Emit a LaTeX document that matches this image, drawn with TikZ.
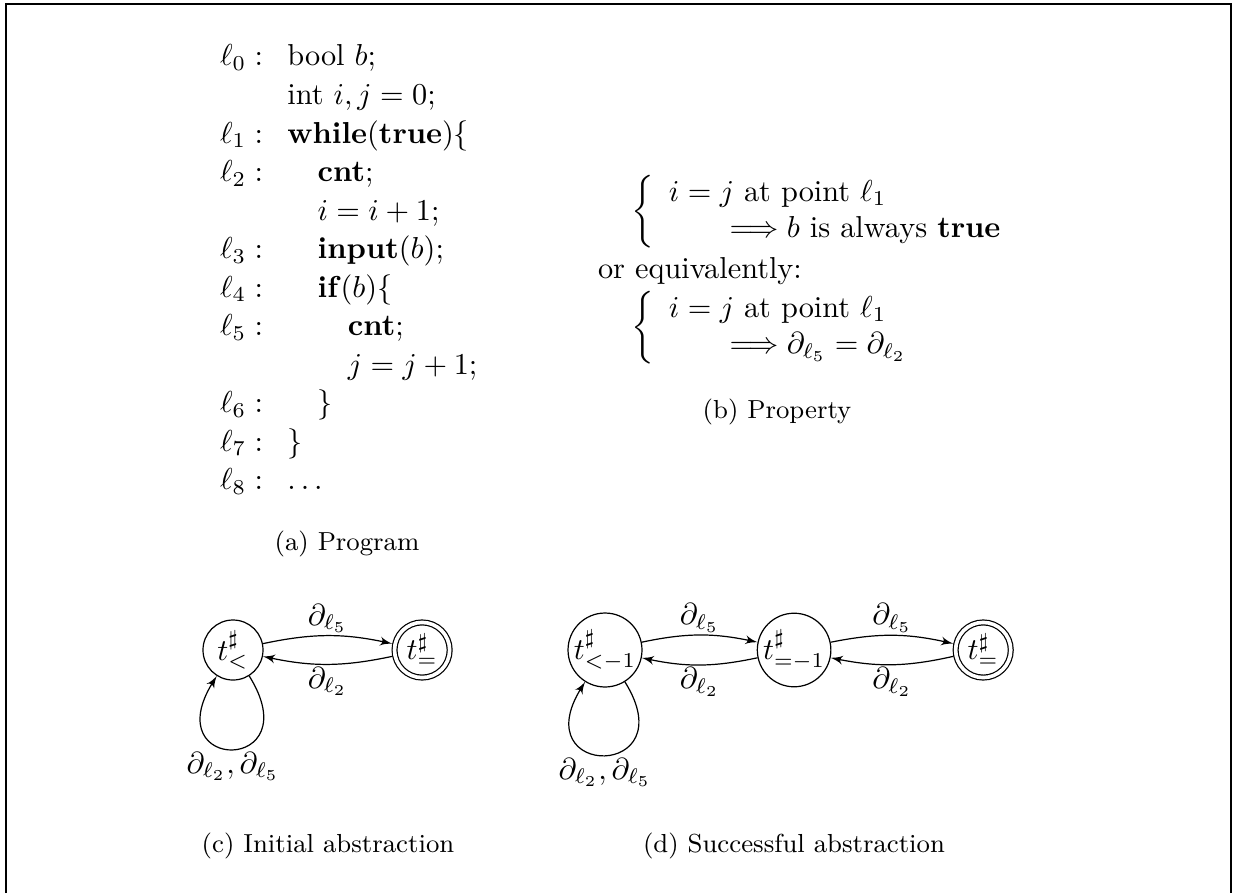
\documentclass[tikz,border=0pt]{standalone}
\usepackage{amssymb}
\usepackage{amsmath}
\usepackage{tikz}
\usetikzlibrary{arrows}

\begin{document}
\begin{tikzpicture}[x=0.33pt,y=-0.33pt,inner sep=.8pt,node distance=62.4pt,>=latex']
\tikzset{state/.style={draw,circle,inner sep=0pt,minimum size=19.8pt},
  final/.style={state,double,double distance=1.2pt,minimum size=18.2pt,outer sep=1pt},
  selfloop/.style={out=-58,in=-122,distance=38pt},
  capt/.style={anchor=base,font=\fontsize{8.6pt}{10pt}\selectfont}}
\useasboundingbox (0,0) rectangle (1233,893);
\draw [line width=.7pt] (6,893) -- (6,4) -- (1231,4) -- (1231,893);

% (a) program
\draw node [anchor=base west] (prog) at (217,66) {\renewcommand{\arraystretch}{1.06}%
  \begin{tabular}[t]{@{}l@{\hspace{8pt}}l@{}}
  $\ell_0:$ & bool $b$;\\
            & int $i,j=0$;\\
  $\ell_1:$ & \textbf{while}(\textbf{true})$\{$\\
  $\ell_2:$ & \quad\textbf{cnt};\\
            & \quad$i=i+1$;\\
  $\ell_3:$ & \quad\textbf{input}($b$);\\
  $\ell_4:$ & \quad\textbf{if}($b$)$\{$\\
  $\ell_5:$ & \qquad\textbf{cnt};\\
            & \qquad$j=j+1$;\\
  $\ell_6:$ & \quad$\}$\\
  $\ell_7:$ & $\}$\\
  $\ell_8:$ & $\ldots$
  \end{tabular}};
\draw node [capt] (capta) at (347,550) {(a) Program};

% (b) property
\draw node [anchor=west] (prop1) at (628,212) {$\left\{\begin{array}{l}
  i=j \text{ at point } \ell_1\\
  \qquad\Longrightarrow b \text{ is always } \mathbf{true}\end{array}\right.$};
\draw node [anchor=base west] (equiv) at (595,278) {or equivalently:};
\draw node [anchor=west] (prop2) at (628,328) {$\left\{\begin{array}{l}
  i=j \text{ at point } \ell_1\\
  \qquad\Longrightarrow \partial_{\ell_5}=\partial_{\ell_2}\end{array}\right.$};
\draw node [capt] (captb) at (777,418) {(b) Property};

% (c) initial abstraction
\draw node [state] (c1) at (233,650) {$t^{\sharp}_{<}$};
\draw node [final] [right of=c1] (c2) {$t^{\sharp}_{=}$};
\draw [->] (c1) edge [bend left=12] node [above] {$\partial_{\ell_5}$} (c2)
           (c2) edge [bend left=12] node [below] {$\partial_{\ell_2}$} (c1)
           (c1) edge [selfloop] node [below] {$\partial_{\ell_2},\partial_{\ell_5}$} (c1);
\draw node [capt] (captc) at (328,852) {(c) Initial abstraction};

% (d) successful abstraction
\draw node [state] (d1) at (605,650) {$t^{\sharp}_{<-1}$};
\draw node [state] [right of=d1] (d2) {$t^{\sharp}_{=-1}$};
\draw node [final] [right of=d2] (d3) {$t^{\sharp}_{=}$};
\draw [->] (d1) edge [bend left=12] node [above] {$\partial_{\ell_5}$} (d2)
           (d2) edge [bend left=12] node [below] {$\partial_{\ell_2}$} (d1)
           (d2) edge [bend left=12] node [above] {$\partial_{\ell_5}$} (d3)
           (d3) edge [bend left=12] node [below] {$\partial_{\ell_2}$} (d2)
           (d1) edge [selfloop] node [below] {$\partial_{\ell_2},\partial_{\ell_5}$} (d1);
\draw node [capt] (captd) at (794,852) {(d) Successful abstraction};
\end{tikzpicture}
\end{document}
